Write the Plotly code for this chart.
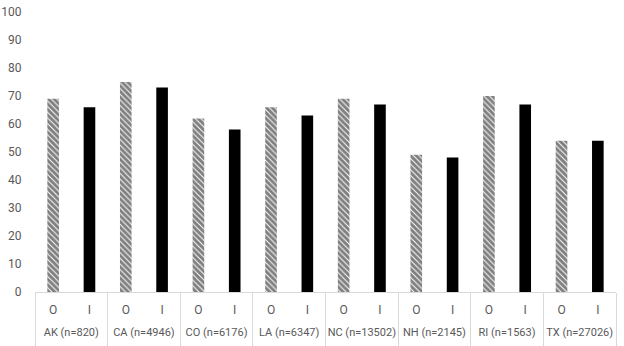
import plotly.graph_objects as go

states = ["AK (n=820)", "CA (n=4946)", "CO (n=6176)", "LA (n=6347)",
          "NC (n=13502)", "NH (n=2145)", "RI (n=1563)", "TX (n=27026)"]
sub_labels = ["O", "I"]
o_vals = [69, 75, 62, 66, 69, 49, 70, 54]
i_vals = [66, 73, 58, 63, 67, 48, 67, 54]

n = len(states)
o_pos = [2 * k for k in range(n)]
i_pos = [2 * k + 1 for k in range(n)]
sub_tickvals = []
sub_ticktext = []
for k in range(n):
    sub_tickvals += [o_pos[k], i_pos[k]]
    sub_ticktext += sub_labels
group_centers = [(o + i) / 2 for o, i in zip(o_pos, i_pos)]
boundaries = [2 * k - 0.5 for k in range(n + 1)]
xrange = [-0.5, 2 * n - 0.5]

H, T = 346, 12
plot_h = H - T
axis_py = 292

fig = go.Figure()
fig.add_trace(go.Bar(
    x=o_pos, y=o_vals, name="O",
    marker=dict(color="white", line=dict(width=0),
                pattern=dict(shape="\\", fgcolor="black", bgcolor="white",
                             size=4, solidity=0.75)),
    width=0.32,
))
fig.add_trace(go.Bar(
    x=i_pos, y=i_vals, name="I",
    marker=dict(color="black", line=dict(width=0)),
    width=0.32,
))
# invisible helper so the group-label axis is drawn
fig.add_trace(go.Scatter(
    x=group_centers, y=[0] * n, xaxis="x2", mode="markers",
    marker=dict(opacity=0, size=1), hoverinfo="skip", showlegend=False,
))

tick_font = dict(family="Roboto, Liberation Sans, sans-serif", size=12, color="#595959")
group_font = dict(family="Roboto, Liberation Sans, sans-serif", size=11, color="#595959")

fig.update_layout(
    width=624, height=H,
    margin=dict(l=35, r=8, t=T, b=0, autoexpand=False),
    paper_bgcolor="white", plot_bgcolor="white",
    showlegend=False,
    barmode="overlay",
    font=dict(family="Roboto, Liberation Sans, Arial, sans-serif", size=12, color="#595959"),
    xaxis=dict(
        range=xrange, tickmode="array", tickvals=sub_tickvals, ticktext=sub_ticktext,
        showline=True, linecolor="#d9d9d9", linewidth=1,
        showgrid=False, zeroline=False,
        ticks="outside", ticklen=7, tickcolor="rgba(0,0,0,0)",
        tickangle=0, automargin=False, tickfont=tick_font,
        minor=dict(tickmode="array", tickvals=boundaries, ticks="outside",
                   ticklen=H - axis_py, tickcolor="#d9d9d9", tickwidth=1, showgrid=False),
    ),
    xaxis2=dict(
        overlaying="x", anchor="free", side="bottom",
        position=(H - 324) / plot_h,
        range=xrange, tickmode="array", tickvals=group_centers, ticktext=states,
        showline=False, showgrid=False, zeroline=False, ticks="",
        tickangle=0, automargin=False, tickfont=group_font,
    ),
    yaxis=dict(
        domain=[(H - axis_py) / plot_h, 1],
        range=[0, 100], dtick=10, tick0=0,
        showgrid=False, showline=False, zeroline=False,
        ticks="outside", ticklen=10, tickcolor="rgba(0,0,0,0)",
        tickfont=tick_font,
    ),
)

fig.write_html("out.html")
